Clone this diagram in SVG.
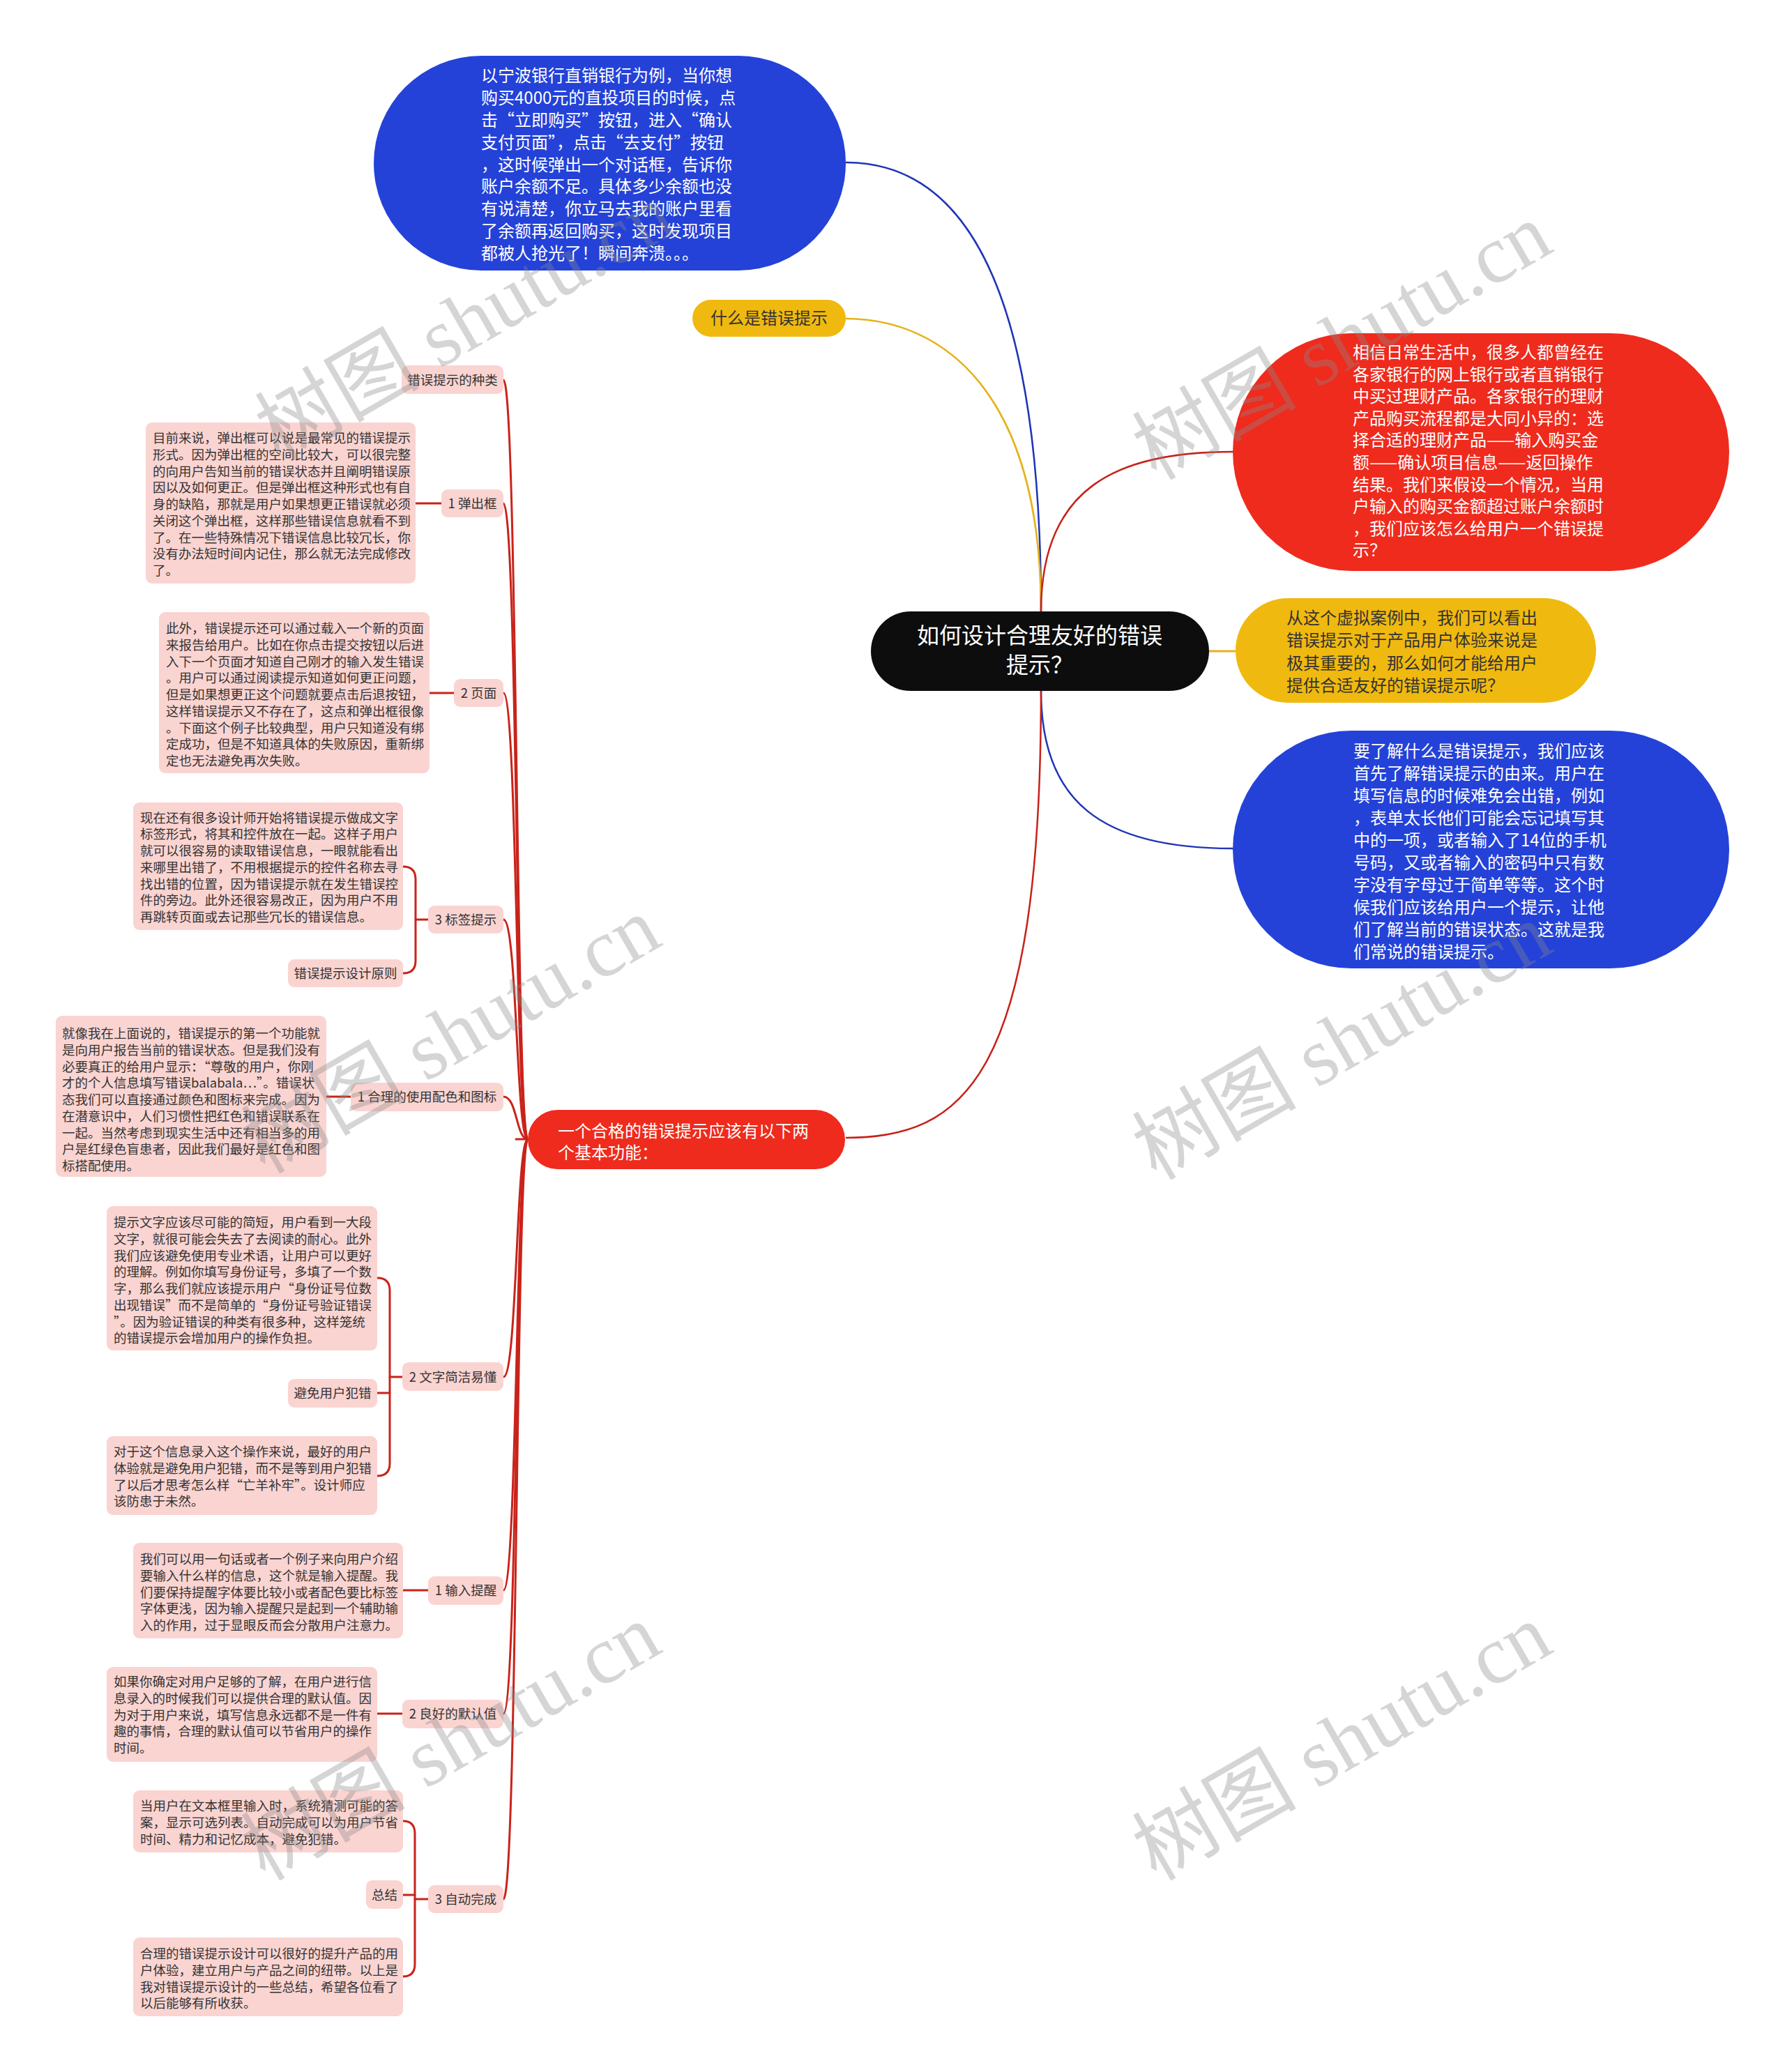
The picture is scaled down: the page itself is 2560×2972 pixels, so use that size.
<svg xmlns="http://www.w3.org/2000/svg" width="2560" height="2972" viewBox="0 0 2560 2972">
<style>
.cjk{font-family:"Noto Sans CJK SC","Liberation Sans",sans-serif}
.big{font-size:24px}
.sm{font-size:18.5px;fill:#333}
.w{fill:#fff}
.d{fill:#333}
.pink{fill:#fad4d1}
.blue{fill:#2442d8}
.red{fill:#ee2b1d}
.yel{fill:#f0b90f}
.cr{fill:none;stroke:#c9231a;stroke-width:3;stroke-linecap:round}
.wm{font-family:"Liberation Serif","Noto Sans CJK SC",serif;font-size:118px;fill:#8a8a8a;opacity:0.35}
</style>

<g id="connectors">
  <path d="M1213 233 C1400 233 1493 450 1493 877" fill="none" stroke="#1f35b5" stroke-width="2.5"/>
  <path d="M1213 457 C1350 457 1493 560 1493 877" fill="none" stroke="#e6b21a" stroke-width="2.5"/>
  <path d="M1493 877 C1493 700 1600 648 1768 648" fill="none" stroke="#c62218" stroke-width="2.5"/>
  <path d="M1734 934 L1772 934" fill="none" stroke="#e6b21a" stroke-width="3"/>
  <path d="M1493 991 C1493 1150 1580 1217 1768 1217" fill="none" stroke="#1f35b5" stroke-width="2.5"/>
  <path d="M1493 991 C1493 1550 1380 1632 1213 1632" fill="none" stroke="#c62218" stroke-width="2.5"/>
  <path class="cr" d="M757 1634 L740 1634"/>
  <path class="cr" d="M722 545 C742 545 740 1634 757 1634"/>
  <path class="cr" d="M722 722 C742 722 740 1634 757 1634"/>
  <path class="cr" d="M722 994 C742 994 740 1634 757 1634"/>
  <path class="cr" d="M722 1319 C742 1319 740 1634 757 1634"/>
  <path class="cr" d="M722 1573 C742 1573 740 1634 757 1634"/>
  <path class="cr" d="M722 1975 C742 1975 740 1634 757 1634"/>
  <path class="cr" d="M722 2281 C742 2281 740 1634 757 1634"/>
  <path class="cr" d="M722 2458 C742 2458 740 1634 757 1634"/>
  <path class="cr" d="M722 2724 C742 2724 740 1634 757 1634"/>
  <path class="cr" d="M596 722 L633 722"/>
  <path class="cr" d="M616 994 L651 994"/>
  <path class="cr" d="M614 1319 L596 1319"/>
  <path class="cr" d="M578 1243 Q596 1243 596 1261 L596 1378 Q596 1396 578 1396"/>
  <path class="cr" d="M468 1573 L503 1573"/>
  <path class="cr" d="M577 1975 L559 1975"/>
  <path class="cr" d="M541 1833 Q559 1833 559 1851 L559 2099 Q559 2117 541 2117"/>
  <path class="cr" d="M541 1998 L559 1998"/>
  <path class="cr" d="M578 2281 L614 2281"/>
  <path class="cr" d="M541 2458 L577 2458"/>
  <path class="cr" d="M614 2724 L595 2724"/>
  <path class="cr" d="M578 2612 Q595 2612 595 2630 L595 2817 Q595 2835 578 2835"/>
  <path class="cr" d="M578 2718 L595 2718"/>
</g>

<g id="root">
  <rect x="1249" y="877" width="485" height="114" rx="57" fill="#0d0d0d"/>
  <text class="cjk w" font-size="32" text-anchor="middle"><tspan x="1491" y="923">如何设计合理友好的错误</tspan><tspan x="1491" y="965">提示？</tspan></text>
</g>

<g id="n-case">
  <rect class="blue" x="536" y="80" width="677" height="308" rx="154"/>
  <text class="cjk big w"><tspan x="690" y="117">以宁波银行直销银行为例，当你想</tspan><tspan x="690" y="149">购买4000元的直投项目的时候，点</tspan><tspan x="690" y="181">击“立即购买”按钮，进入“确认</tspan><tspan x="690" y="213">支付页面”，点击“去支付”按钮</tspan><tspan x="690" y="245">，这时候弹出一个对话框，告诉你</tspan><tspan x="690" y="276">账户余额不足。具体多少余额也没</tspan><tspan x="690" y="308">有说清楚，你立马去我的账户里看</tspan><tspan x="690" y="340">了余额再返回购买，这时发现项目</tspan><tspan x="690" y="372">都被人抢光了！瞬间奔溃。。。</tspan></text>
</g>

<g id="n-what">
  <rect class="yel" x="993" y="430" width="220" height="53" rx="26.5"/>
  <text class="cjk big d" text-anchor="middle" x="1103" y="465">什么是错误提示</text>
</g>

<g id="n-daily">
  <rect class="red" x="1768" y="478" width="712" height="341" rx="170.5"/>
  <text class="cjk big w"><tspan x="1940" y="514">相信日常生活中，很多人都曾经在</tspan><tspan x="1940" y="546">各家银行的网上银行或者直销银行</tspan><tspan x="1940" y="577">中买过理财产品。各家银行的理财</tspan><tspan x="1940" y="609">产品购买流程都是大同小异的：选</tspan><tspan x="1940" y="640">择合适的理财产品——输入购买金</tspan><tspan x="1940" y="672">额——确认项目信息——返回操作</tspan><tspan x="1940" y="704">结果。我们来假设一个情况，当用</tspan><tspan x="1940" y="735">户输入的购买金额超过账户余额时</tspan><tspan x="1940" y="767">，我们应该怎么给用户一个错误提</tspan><tspan x="1940" y="798">示？</tspan></text>
</g>

<g id="n-important">
  <rect class="yel" x="1772" y="858" width="517" height="150" rx="75"/>
  <text class="cjk big d"><tspan x="1845" y="895">从这个虚拟案例中，我们可以看出</tspan><tspan x="1845" y="927">错误提示对于产品用户体验来说是</tspan><tspan x="1845" y="960">极其重要的，那么如何才能给用户</tspan><tspan x="1845" y="992">提供合适友好的错误提示呢？</tspan></text>
</g>

<g id="n-define">
  <rect class="blue" x="1768" y="1048" width="712" height="341" rx="170.5"/>
  <text class="cjk big w"><tspan x="1941" y="1086">要了解什么是错误提示，我们应该</tspan><tspan x="1941" y="1118">首先了解错误提示的由来。用户在</tspan><tspan x="1941" y="1150">填写信息的时候难免会出错，例如</tspan><tspan x="1941" y="1182">，表单太长他们可能会忘记填写其</tspan><tspan x="1941" y="1214">中的一项，或者输入了14位的手机</tspan><tspan x="1941" y="1246">号码，又或者输入的密码中只有数</tspan><tspan x="1941" y="1278">字没有字母过于简单等等。这个时</tspan><tspan x="1941" y="1310">候我们应该给用户一个提示，让他</tspan><tspan x="1941" y="1342">们了解当前的错误状态。这就是我</tspan><tspan x="1941" y="1374">们常说的错误提示。</tspan></text>
</g>

<g id="n-functions">
  <rect class="red" x="757" y="1592" width="455" height="85" rx="42.5"/>
  <text class="cjk big w"><tspan x="800" y="1631">一个合格的错误提示应该有以下两</tspan><tspan x="800" y="1662">个基本功能：</tspan></text>
</g>

<g id="l-types">
  <rect class="pink" x="576" y="524" width="146" height="41" rx="9"/>
  <text class="cjk sm" text-anchor="middle" x="649" y="552">错误提示的种类</text>
</g>

<g id="l-popup">
  <rect class="pink" x="633" y="702" width="89" height="40" rx="9"/>
  <text class="cjk sm" text-anchor="middle" x="677.5" y="729">1 弹出框</text>
</g>
<g id="t-popup">
  <rect class="pink" x="209" y="606" width="387" height="231" rx="9"/>
  <text class="cjk sm"><tspan x="219" y="635">目前来说，弹出框可以说是最常见的错误提示</tspan><tspan x="219" dy="23.75">形式。因为弹出框的空间比较大，可以很完整</tspan><tspan x="219" dy="23.75">的向用户告知当前的错误状态并且阐明错误原</tspan><tspan x="219" dy="23.75">因以及如何更正。但是弹出框这种形式也有自</tspan><tspan x="219" dy="23.75">身的缺陷，那就是用户如果想更正错误就必须</tspan><tspan x="219" dy="23.75">关闭这个弹出框，这样那些错误信息就看不到</tspan><tspan x="219" dy="23.75">了。在一些特殊情况下错误信息比较冗长，你</tspan><tspan x="219" dy="23.75">没有办法短时间内记住，那么就无法完成修改</tspan><tspan x="219" dy="23.75">了。</tspan></text>
</g>

<g id="l-page">
  <rect class="pink" x="651" y="974" width="71" height="40" rx="9"/>
  <text class="cjk sm" text-anchor="middle" x="686.5" y="1001">2 页面</text>
</g>
<g id="t-page">
  <rect class="pink" x="228" y="878" width="388" height="231" rx="9"/>
  <text class="cjk sm"><tspan x="238" y="908">此外，错误提示还可以通过载入一个新的页面</tspan><tspan x="238" dy="23.75">来报告给用户。比如在你点击提交按钮以后进</tspan><tspan x="238" dy="23.75">入下一个页面才知道自己刚才的输入发生错误</tspan><tspan x="238" dy="23.75">。用户可以通过阅读提示知道如何更正问题，</tspan><tspan x="238" dy="23.75">但是如果想更正这个问题就要点击后退按钮，</tspan><tspan x="238" dy="23.75">这样错误提示又不存在了，这点和弹出框很像</tspan><tspan x="238" dy="23.75">。下面这个例子比较典型，用户只知道没有绑</tspan><tspan x="238" dy="23.75">定成功，但是不知道具体的失败原因，重新绑</tspan><tspan x="238" dy="23.75">定也无法避免再次失败。</tspan></text>
</g>

<g id="l-label">
  <rect class="pink" x="614" y="1299" width="108" height="40" rx="9"/>
  <text class="cjk sm" text-anchor="middle" x="668" y="1326">3 标签提示</text>
</g>
<g id="t-label">
  <rect class="pink" x="191" y="1151" width="387" height="183" rx="9"/>
  <text class="cjk sm"><tspan x="201" y="1179.5">现在还有很多设计师开始将错误提示做成文字</tspan><tspan x="201" dy="23.75">标签形式，将其和控件放在一起。这样子用户</tspan><tspan x="201" dy="23.75">就可以很容易的读取错误信息，一眼就能看出</tspan><tspan x="201" dy="23.75">来哪里出错了，不用根据提示的控件名称去寻</tspan><tspan x="201" dy="23.75">找出错的位置，因为错误提示就在发生错误控</tspan><tspan x="201" dy="23.75">件的旁边。此外还很容易改正，因为用户不用</tspan><tspan x="201" dy="23.75">再跳转页面或去记那些冗长的错误信息。</tspan></text>
</g>
<g id="t-principle">
  <rect class="pink" x="413" y="1376" width="165" height="40" rx="9"/>
  <text class="cjk sm" text-anchor="middle" x="495.5" y="1403">错误提示设计原则</text>
</g>

<g id="l-color">
  <rect class="pink" x="503" y="1553" width="219" height="41" rx="9"/>
  <text class="cjk sm" text-anchor="middle" x="612.5" y="1580">1 合理的使用配色和图标</text>
</g>
<g id="t-color">
  <rect class="pink" x="80" y="1457" width="388" height="231" rx="9"/>
  <text class="cjk sm"><tspan x="89" y="1489">就像我在上面说的，错误提示的第一个功能就</tspan><tspan x="89" dy="23.75">是向用户报告当前的错误状态。但是我们没有</tspan><tspan x="89" dy="23.75">必要真正的给用户显示：“尊敬的用户，你刚</tspan><tspan x="89" dy="23.75">才的个人信息填写错误balabala…”。错误状</tspan><tspan x="89" dy="23.75">态我们可以直接通过颜色和图标来完成。因为</tspan><tspan x="89" dy="23.75">在潜意识中，人们习惯性把红色和错误联系在</tspan><tspan x="89" dy="23.75">一起。当然考虑到现实生活中还有相当多的用</tspan><tspan x="89" dy="23.75">户是红绿色盲患者，因此我们最好是红色和图</tspan><tspan x="89" dy="23.75">标搭配使用。</tspan></text>
</g>

<g id="l-concise">
  <rect class="pink" x="577" y="1954" width="145" height="41" rx="9"/>
  <text class="cjk sm" text-anchor="middle" x="649.5" y="1982">2 文字简洁易懂</text>
</g>
<g id="t-concise">
  <rect class="pink" x="153" y="1730" width="388" height="207" rx="9"/>
  <text class="cjk sm"><tspan x="163" y="1760">提示文字应该尽可能的简短，用户看到一大段</tspan><tspan x="163" dy="23.75">文字，就很可能会失去了去阅读的耐心。此外</tspan><tspan x="163" dy="23.75">我们应该避免使用专业术语，让用户可以更好</tspan><tspan x="163" dy="23.75">的理解。例如你填写身份证号，多填了一个数</tspan><tspan x="163" dy="23.75">字，那么我们就应该提示用户“身份证号位数</tspan><tspan x="163" dy="23.75">出现错误”而不是简单的“身份证号验证错误</tspan><tspan x="163" dy="23.75">”。因为验证错误的种类有很多种，这样笼统</tspan><tspan x="163" dy="23.75">的错误提示会增加用户的操作负担。</tspan></text>
</g>
<g id="t-avoid">
  <rect class="pink" x="413" y="1978" width="128" height="41" rx="9"/>
  <text class="cjk sm" text-anchor="middle" x="477" y="2005">避免用户犯错</text>
</g>
<g id="t-avoid2">
  <rect class="pink" x="153" y="2060" width="388" height="113" rx="9"/>
  <text class="cjk sm"><tspan x="163" y="2089">对于这个信息录入这个操作来说，最好的用户</tspan><tspan x="163" dy="23.75">体验就是避免用户犯错，而不是等到用户犯错</tspan><tspan x="163" dy="23.75">了以后才思考怎么样“亡羊补牢”。设计师应</tspan><tspan x="163" dy="23.75">该防患于未然。</tspan></text>
</g>

<g id="l-hint">
  <rect class="pink" x="614" y="2261" width="108" height="41" rx="9"/>
  <text class="cjk sm" text-anchor="middle" x="668" y="2288">1 输入提醒</text>
</g>
<g id="t-hint">
  <rect class="pink" x="191" y="2213" width="387" height="137" rx="9"/>
  <text class="cjk sm"><tspan x="201" y="2243">我们可以用一句话或者一个例子来向用户介绍</tspan><tspan x="201" dy="23.75">要输入什么样的信息，这个就是输入提醒。我</tspan><tspan x="201" dy="23.75">们要保持提醒字体要比较小或者配色要比标签</tspan><tspan x="201" dy="23.75">字体更浅，因为输入提醒只是起到一个辅助输</tspan><tspan x="201" dy="23.75">入的作用，过于显眼反而会分散用户注意力。</tspan></text>
</g>

<g id="l-default">
  <rect class="pink" x="577" y="2438" width="145" height="41" rx="9"/>
  <text class="cjk sm" text-anchor="middle" x="649.5" y="2465">2 良好的默认值</text>
</g>
<g id="t-default">
  <rect class="pink" x="153" y="2391" width="388" height="136" rx="9"/>
  <text class="cjk sm"><tspan x="163" y="2419">如果你确定对用户足够的了解，在用户进行信</tspan><tspan x="163" dy="23.75">息录入的时候我们可以提供合理的默认值。因</tspan><tspan x="163" dy="23.75">为对于用户来说，填写信息永远都不是一件有</tspan><tspan x="163" dy="23.75">趣的事情，合理的默认值可以节省用户的操作</tspan><tspan x="163" dy="23.75">时间。</tspan></text>
</g>

<g id="l-auto">
  <rect class="pink" x="614" y="2704" width="108" height="40" rx="9"/>
  <text class="cjk sm" text-anchor="middle" x="668" y="2731">3 自动完成</text>
</g>
<g id="t-auto">
  <rect class="pink" x="191" y="2568" width="387" height="89" rx="9"/>
  <text class="cjk sm"><tspan x="201" y="2597">当用户在文本框里输入时，系统猜测可能的答</tspan><tspan x="201" dy="23.75">案，显示可选列表。自动完成可以为用户节省</tspan><tspan x="201" dy="23.75">时间、精力和记忆成本，避免犯错。</tspan></text>
</g>
<g id="t-summary">
  <rect class="pink" x="525" y="2697" width="53" height="41" rx="9"/>
  <text class="cjk sm" text-anchor="middle" x="551.5" y="2725">总结</text>
</g>
<g id="t-summary2">
  <rect class="pink" x="191" y="2779" width="387" height="113" rx="9"/>
  <text class="cjk sm"><tspan x="201" y="2809">合理的错误提示设计可以很好的提升产品的用</tspan><tspan x="201" dy="23.75">户体验，建立用户与产品之间的纽带。以上是</tspan><tspan x="201" dy="23.75">我对错误提示设计的一些总结，希望各位看了</tspan><tspan x="201" dy="23.75">以后能够有所收获。</tspan></text>
</g>

<g id="watermarks">
  <text class="wm" transform="translate(400 662) rotate(-30)">树图 shutu.cn</text>
  <text class="wm" transform="translate(1658 690) rotate(-30)">树图 shutu.cn</text>
  <text class="wm" transform="translate(380 1685) rotate(-30)">树图 shutu.cn</text>
  <text class="wm" transform="translate(1658 1694) rotate(-30)">树图 shutu.cn</text>
  <text class="wm" transform="translate(380 2699) rotate(-30)">树图 shutu.cn</text>
  <text class="wm" transform="translate(1658 2699) rotate(-30)">树图 shutu.cn</text>
</g>
</svg>
